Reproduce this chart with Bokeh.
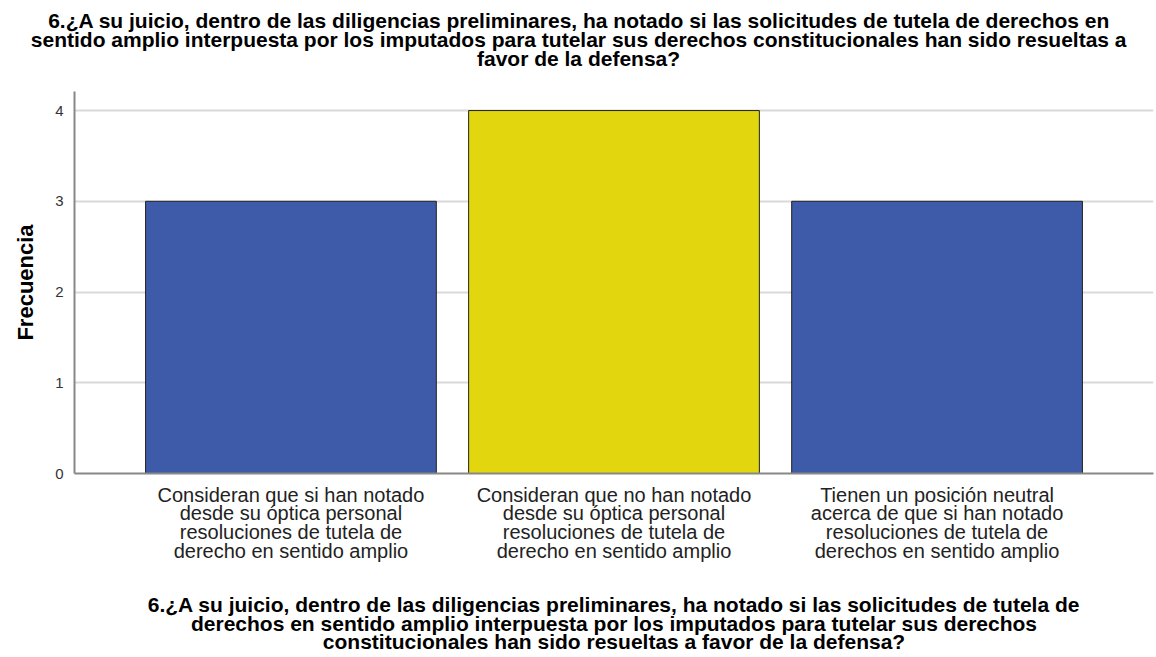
import glob
from bokeh.plotting import figure
from bokeh.models import Range1d, FixedTicker, Title
from bokeh.embed import file_html
from bokeh.resources import INLINE

title_lines = [
    "6.¿A su juicio, dentro de las diligencias preliminares, ha notado si las solicitudes de tutela de derechos en",
    "sentido amplio interpuesta por los imputados para tutelar sus derechos constitucionales han sido resueltas a",
    "favor de la defensa?",
]
xlabel_text = ("6.¿A su juicio, dentro de las diligencias preliminares, ha notado si las solicitudes de tutela de\n"
               "derechos en sentido amplio interpuesta por los imputados para tutelar sus derechos\n"
               "constitucionales han sido resueltas a favor de la defensa?")
categories = [
    "Consideran que si han notado\ndesde su óptica personal\nresoluciones de tutela de\nderecho en sentido amplio",
    "Consideran que no han notado\ndesde su óptica personal\nresoluciones de tutela de\nderecho en sentido amplio",
    "Tienen un posición neutral\nacerca de que si han notado\nresoluciones de tutela de\nderechos en sentido amplio",
]
counts = [3, 4, 3]
colors = ["#3E5BA9", "#E2D60E", "#3E5BA9"]
y_ticks = [0, 1, 2, 3, 4]

xs = list(range(len(categories)))

TITLE_PX = 21
FRAME_LEFT = 74
PAGE_CENTER = 578


def text_width(s, size):
    try:
        from PIL import ImageFont
        paths = glob.glob("/usr/share/fonts/**/LiberationSans-Bold.ttf", recursive=True)
        if paths:
            f = ImageFont.truetype(paths[0], size)
            return f.getlength(s)
    except Exception:
        pass
    return len(s) * size * 0.5


p = figure(width=1156, height=657, output_backend="svg", toolbar_location=None, title=None,
           x_range=Range1d(-0.67, 2.67), y_range=Range1d(0, 4.21),
           min_border_left=FRAME_LEFT, min_border_right=3, min_border_top=91, min_border_bottom=184)
p.outline_line_color = None
p.background_fill_color = "white"

p.vbar(x=xs, top=counts, width=0.9, fill_color=colors, line_color="#222222", line_width=1)

# spacer between the plot frame and the title block
p.add_layout(Title(text=" ", text_font_size="12px", standoff=9), "above")
for line in reversed(title_lines):
    w = text_width(line, TITLE_PX)
    off = PAGE_CENTER - w / 2 - FRAME_LEFT
    t = Title(text=line, align="left", text_font="Liberation Sans", text_font_size=f"{TITLE_PX}px",
              text_font_style="bold", text_color="#000000", standoff=-6, offset=off)
    p.add_layout(t, "above")

p.yaxis.ticker = FixedTicker(ticks=y_ticks)
p.yaxis.axis_label = "Frecuencia"
p.yaxis.axis_label_text_font = "Liberation Sans"
p.yaxis.axis_label_text_font_size = "22px"
p.yaxis.axis_label_text_font_style = "bold"
p.yaxis.axis_label_text_color = "#000000"
p.yaxis.axis_label_standoff = 14
p.yaxis.major_label_text_font = "Liberation Sans"
p.yaxis.major_label_text_font_size = "15px"
p.yaxis.major_label_text_color = "#333333"
p.yaxis.major_tick_line_color = None
p.yaxis.minor_tick_line_color = None
p.yaxis.axis_line_color = "#888888"
p.yaxis.axis_line_width = 2
p.yaxis.major_label_standoff = 5

p.xaxis.ticker = FixedTicker(ticks=xs)
p.xaxis.major_label_overrides = {i: c for i, c in zip(xs, categories)}
p.xaxis.major_label_text_font = "Liberation Sans"
p.xaxis.major_label_text_font_size = "20px"
p.xaxis.major_label_text_color = "#222222"
p.xaxis.major_label_text_line_height = 0.86
p.xaxis.major_label_standoff = 4
p.xaxis.major_tick_line_color = None
p.xaxis.minor_tick_line_color = None
p.xaxis.axis_line_color = "#888888"
p.xaxis.axis_line_width = 2
p.xaxis.axis_label = xlabel_text
p.xaxis.axis_label_text_font = "Liberation Sans"
p.xaxis.axis_label_text_font_size = "21px"
p.xaxis.axis_label_text_font_style = "bold"
p.xaxis.axis_label_text_color = "#000000"
p.xaxis.axis_label_text_line_height = 0.8
p.xaxis.axis_label_standoff = 28
p.xaxis.axis_label_text_align = "center"

p.xgrid.grid_line_color = None
p.ygrid.grid_line_color = "#D9D9D9"
p.ygrid.grid_line_width = 2

open("out.html", "w").write(file_html(p, INLINE))
